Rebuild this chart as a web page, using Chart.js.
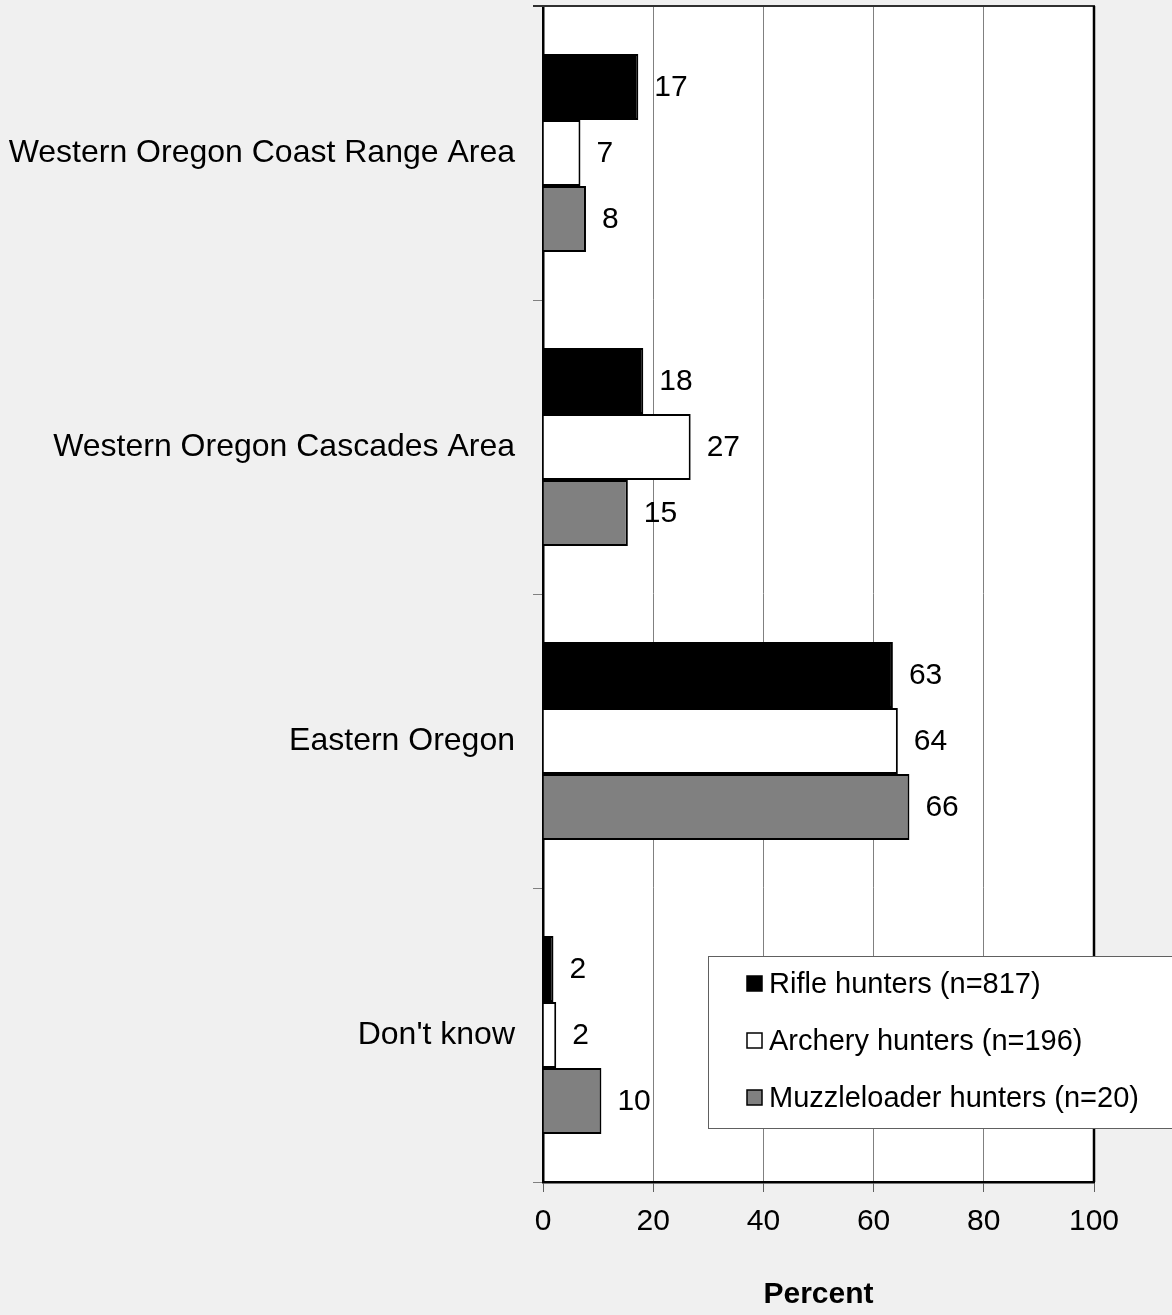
<!DOCTYPE html>
<html>
<head>
<meta charset="utf-8">
<script src="https://cdn.jsdelivr.net/npm/chart.js@4/dist/chart.umd.min.js"></script>
<style>
  html, body { margin: 0; padding: 0; background: #f0f0f0; }
  #wrap { width: 1172px; height: 1315px; }
</style>
</head>
<body>
<div id="wrap"><canvas id="c" width="1172" height="1315"></canvas></div>
<script>
// ---- data ----
const categories = ["Western Oregon Coast Range Area", "Western Oregon Cascades Area", "Eastern Oregon", "Don't know"];
const seriesNames = ["Rifle hunters (n=817)", "Archery hunters (n=196)", "Muzzleloader hunters (n=20)"];
const rifleValues = [17.3, 18.2, 63.5, 1.9];
const archeryValues = [6.8, 26.8, 64.4, 2.4];
const muzzleValues = [7.8, 15.4, 66.5, 10.6];
const rifleLabels = ["17", "18", "63", "2"];
const archeryLabels = ["7", "27", "64", "2"];
const muzzleLabels = ["8", "15", "66", "10"];
const xTicks = [0, 20, 40, 60, 80, 100];
const xTitle = "Percent";

const FONT = "'Liberation Sans', Arial, Helvetica, sans-serif";
const labelSets = [rifleLabels, archeryLabels, muzzleLabels];

const bgPlugin = {
  id: 'bg',
  beforeDraw(chart) {
    const ctx = chart.ctx, a = chart.chartArea;
    ctx.save();
    ctx.fillStyle = '#f0f0f0';
    ctx.fillRect(0, 0, chart.width, chart.height);
    ctx.fillStyle = '#ffffff';
    ctx.fillRect(a.left, a.top, a.right - a.left, a.bottom - a.top);
    ctx.restore();
  },
  afterDraw(chart) {
    const ctx = chart.ctx, a = chart.chartArea;
    ctx.save();
    ctx.strokeStyle = '#303030';
    ctx.lineWidth = 2;
    ctx.beginPath();
    ctx.moveTo(a.left - 10, a.top);
    ctx.lineTo(a.right + 1, a.top);
    ctx.stroke();
    ctx.strokeStyle = '#000000';
    ctx.lineWidth = 2.5;
    ctx.beginPath();
    ctx.moveTo(a.right, a.top);
    ctx.lineTo(a.right, a.bottom);
    ctx.stroke();
    ctx.restore();
  }
};

const labelPlugin = {
  id: 'vals',
  afterDatasetsDraw(chart) {
    const ctx = chart.ctx;
    ctx.save();
    ctx.font = '30px ' + FONT;
    ctx.fillStyle = '#000';
    ctx.textAlign = 'left';
    ctx.textBaseline = 'middle';
    chart.data.datasets.forEach((ds, di) => {
      const meta = chart.getDatasetMeta(di);
      meta.data.forEach((bar, i) => {
        ctx.fillText(labelSets[di][i], bar.x + 16, bar.y + 1);
      });
    });
    ctx.restore();
  }
};

const legendPlugin = {
  id: 'customLegend',
  afterDraw(chart) {
    const ctx = chart.ctx;
    const x0 = 708, y0 = 956, w = 480, h = 172;
    ctx.save();
    ctx.fillStyle = '#ffffff';
    ctx.fillRect(x0, y0, w, h);
    ctx.strokeStyle = '#606060';
    ctx.lineWidth = 1;
    ctx.strokeRect(x0 + 0.5, y0 + 0.5, w, h);
    ctx.font = '29px ' + FONT;
    ctx.textAlign = 'left';
    ctx.textBaseline = 'middle';
    chart.data.datasets.forEach((ds, i) => {
      const cy = 984 + i * 57;
      ctx.fillStyle = ds.backgroundColor;
      ctx.fillRect(747, cy - 8, 15, 15);
      ctx.strokeStyle = '#000';
      ctx.lineWidth = 1.5;
      ctx.strokeRect(747, cy - 8, 15, 15);
      ctx.fillStyle = '#000';
      ctx.fillText(ds.label, 769, cy + 1);
    });
    ctx.restore();
  }
};

new Chart(document.getElementById('c'), {
  type: 'bar',
  data: {
    labels: categories,
    datasets: [
      { label: seriesNames[0], data: rifleValues, backgroundColor: '#000000', borderColor: '#000000', borderWidth: 2 },
      { label: seriesNames[1], data: archeryValues, backgroundColor: '#ffffff', borderColor: '#000000', borderWidth: 2 },
      { label: seriesNames[2], data: muzzleValues, backgroundColor: '#808080', borderColor: '#000000', borderWidth: 2 }
    ]
  },
  options: {
    indexAxis: 'y',
    responsive: false,
    animation: false,
    devicePixelRatio: 1,
    layout: { padding: { left: 0, right: 78, top: 6, bottom: 0 } },
    datasets: { bar: { categoryPercentage: 0.673, barPercentage: 1.0 } },
    plugins: { legend: { display: false }, tooltip: { enabled: false } },
    scales: {
      x: {
        min: 0, max: 100,
        afterBuildTicks(scale) { scale.ticks = xTicks.map(v => ({ value: v })); },
        afterFit(scale) { scale.height = 133; },
        grid: { color: '#808080', lineWidth: 1, tickLength: 10, drawTicks: true, tickColor: '#606060' },
        border: { color: '#000000', width: 2.5 },
        ticks: { color: '#000', font: { family: FONT, size: 30 }, padding: 12, maxRotation: 0 },
        title: { display: true, text: xTitle, color: '#000', font: { family: FONT, size: 30, weight: 'bold' }, padding: { top: 0, bottom: 2 } }
      },
      y: {
        afterFit(scale) { scale.width = 543; scale.paddingTop = 0; scale.paddingBottom = 0; },
        grid: { display: true, drawOnChartArea: false, tickLength: 10, color: '#808080', offset: true },
        border: { color: '#000000', width: 2.5 },
        ticks: { color: '#000', font: { family: FONT, size: 32 }, padding: 18 }
      }
    }
  },
  plugins: [bgPlugin, labelPlugin, legendPlugin]
});
</script>
</body>
</html>
